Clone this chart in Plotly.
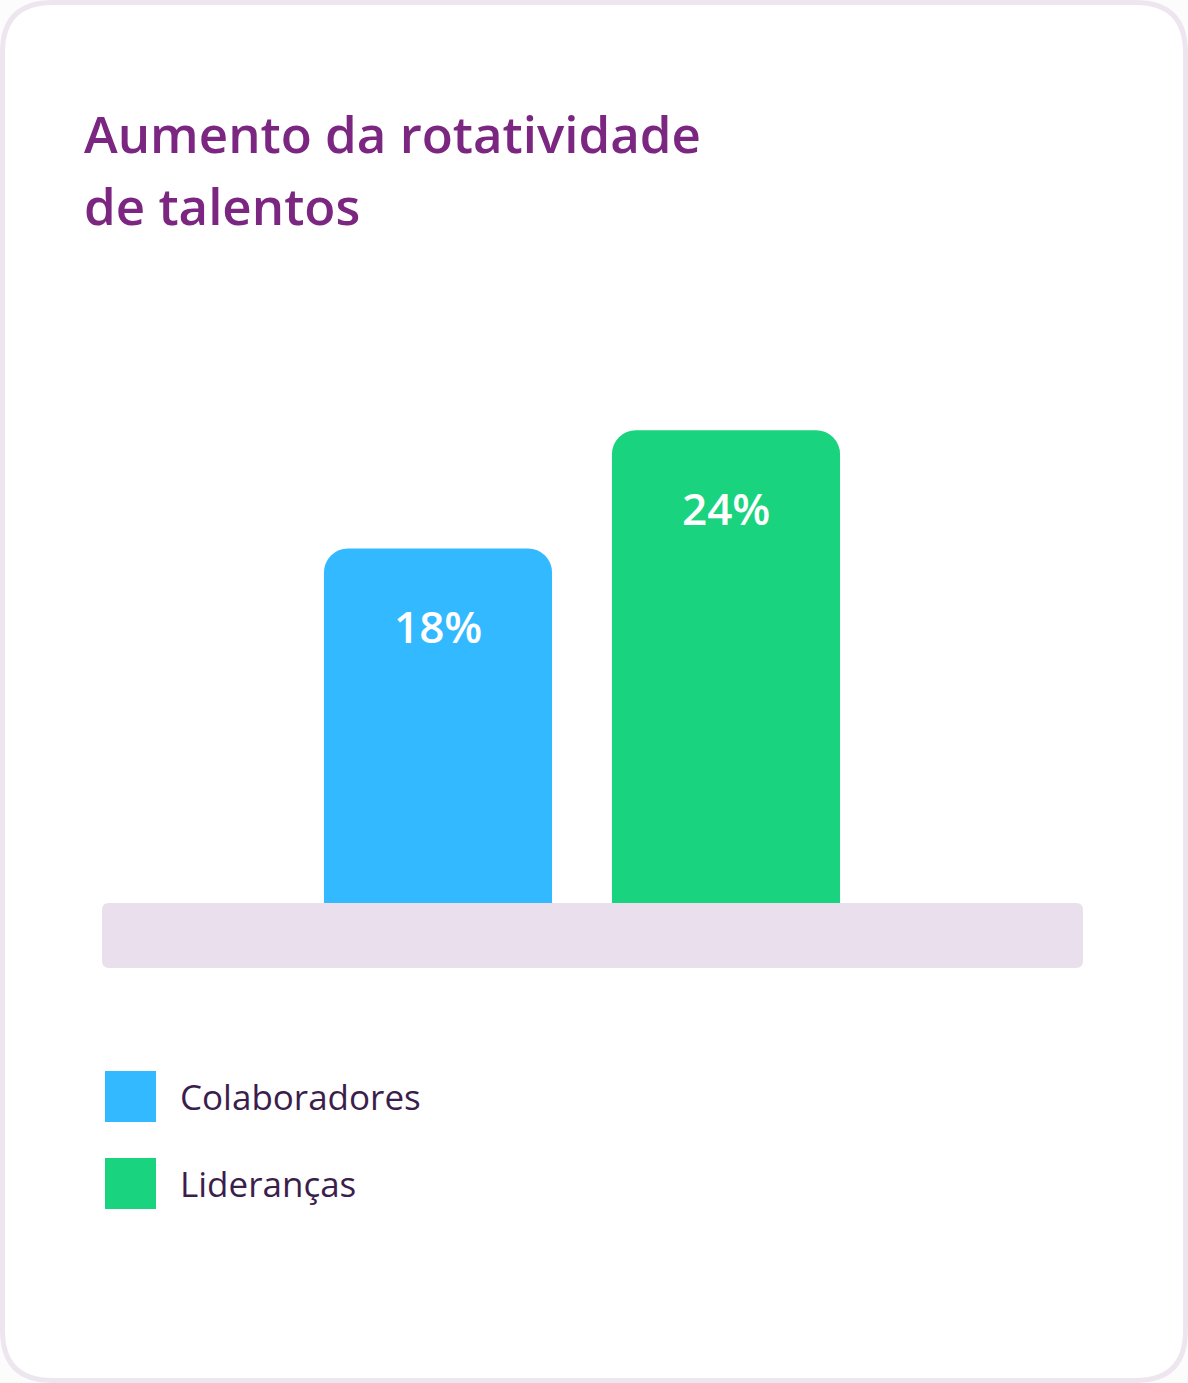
import plotly.graph_objects as go

# data
categories = ["Colaboradores", "Lideranças"]
values = [18, 24]
labels = ["18%", "24%"]
colors = ["#33B9FF", "#19D37E"]

W, H = 1188, 1383
FONT = "Open Sans"


def px(x):
    return x / W


def py(y):
    return 1 - y / H


def rounded_rect(x0, y0, x1, y1, r):
    # path in paper coords, corners given in pixels
    rx, ry = r / W, r / H
    a, b, c, d = px(x0), py(y0), px(x1), py(y1)
    return (f"M {a + rx},{b} L {c - rx},{b} Q {c},{b} {c},{b - ry} "
            f"L {c},{d + ry} Q {c},{d} {c - rx},{d} "
            f"L {a + rx},{d} Q {a},{d} {a},{d + ry} "
            f"L {a},{b - ry} Q {a},{b} {a + rx},{b} Z")


fig = go.Figure()
fig.add_trace(go.Bar(
    x=categories,
    y=values,
    marker=dict(color=colors, line=dict(width=0), cornerradius=24),
    hoverinfo="skip",
    showlegend=False,
))

shapes = [
    # card border
    dict(type="path", xref="paper", yref="paper", layer="below",
         path=rounded_rect(2.5, 2.5, W - 2.5, H - 2.5, 50),
         line=dict(color="#EEE6EF", width=5), fillcolor="#FFFFFF"),
    # base plinth under the bars
    dict(type="path", xref="paper", yref="paper", layer="above",
         path=rounded_rect(102, 903, 1083, 968, 7),
         line=dict(width=0), fillcolor="#EADFEC"),
]

annotations = []
# value labels inside the bars
for cat, v, lab in zip(categories, values, labels):
    annotations.append(dict(
        x=cat, y=v, xref="x", yref="y", text=lab, showarrow=False,
        yanchor="middle", yshift=-78,
        font=dict(family=FONT, size=44, color="#FFFFFF", weight=600),
    ))

# title
for i, line in enumerate(["Aumento da rotatividade", "de talentos"]):
    annotations.append(dict(
        x=px(82), y=py(133 + 72 * i), xref="paper", yref="paper",
        xanchor="left", yanchor="middle", text=line, showarrow=False,
        font=dict(family=FONT, size=51, color="#7B2680", weight=600),
    ))

# legend
for i, (cat, col) in enumerate(zip(categories, colors)):
    top = 1071 + 87 * i
    shapes.append(dict(type="rect", xref="paper", yref="paper",
                       x0=px(105), x1=px(156), y0=py(top), y1=py(top + 51),
                       line=dict(width=0), fillcolor=col))
    annotations.append(dict(
        x=px(178), y=py(top + 25), xref="paper", yref="paper",
        xanchor="left", yanchor="middle", text=cat, showarrow=False,
        font=dict(family=FONT, size=35, color="#3B1E4C"),
    ))

fig.update_layout(
    width=W,
    height=H,
    margin=dict(l=0, r=0, t=0, b=0),
    paper_bgcolor="#FDFCFD",
    plot_bgcolor="rgba(0,0,0,0)",
    bargap=0.208,
    shapes=shapes,
    annotations=annotations,
    xaxis=dict(domain=[px(294), px(870)], range=[-0.5, 1.5],
               visible=False, fixedrange=True),
    yaxis=dict(domain=[py(903), py(312)], range=[0, 30],
               visible=False, fixedrange=True),
)

fig.write_html("out.html", config={"displayModeBar": False},
               post_script="document.body.style.margin='0px';")
